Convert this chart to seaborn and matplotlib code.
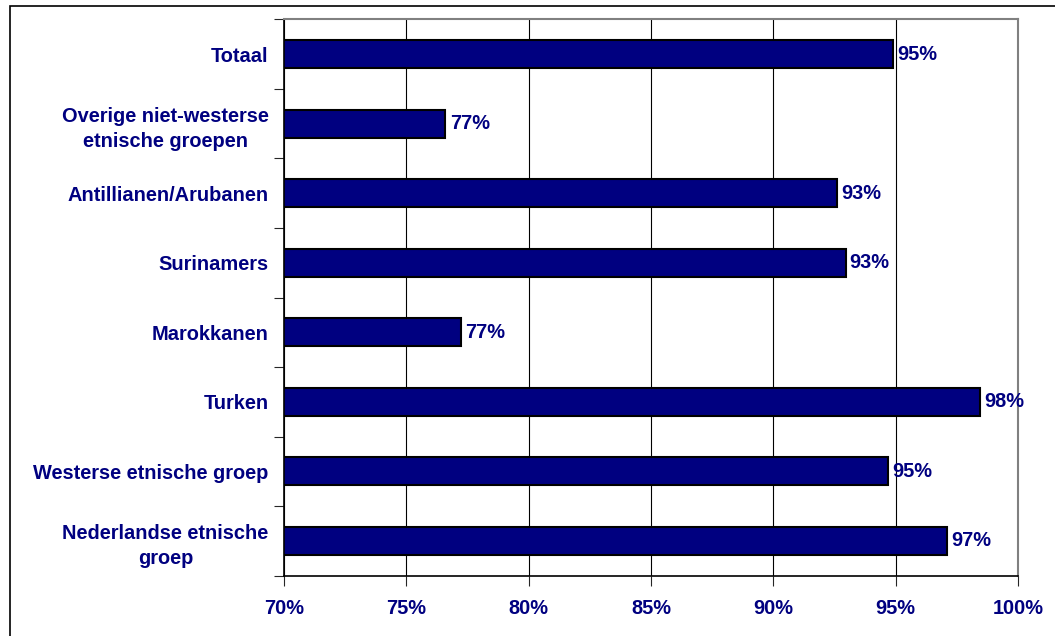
import pandas as pd
import matplotlib
matplotlib.use("Agg")
import matplotlib.pyplot as plt
import seaborn as sns
from matplotlib.patches import Rectangle
from matplotlib.ticker import FixedLocator, PercentFormatter

groups = [
    "Totaal",
    "Overige niet-westerse\netnische groepen",
    "Antillianen/Arubanen",
    "Surinamers",
    "Marokkanen",
    "Turken",
    "Westerse etnische groep",
    "Nederlandse etnische\ngroep",
]
shares = [94.9, 76.6, 92.6, 92.95, 77.25, 98.45, 94.7, 97.1]

NAVY = "#000080"
FS = 14.4

sns.set_style("white")
plt.rcParams['font.family'] = ['Liberation Sans', 'DejaVu Sans']

df = pd.DataFrame({"group": groups, "share": shares})

fig = plt.figure(figsize=(10.55, 6.36), dpi=100)
# outer frame (only left and top visible in the original)
fig.patches.append(Rectangle((10 / 1055, -0.1), 1.2, (636 - 6) / 636 + 0.1,
                             transform=fig.transFigure, fill=False,
                             edgecolor="black", linewidth=1.2))

ax = fig.add_axes([284 / 1055, (636 - 575.7) / 636, 734 / 1055, 556.4 / 636])

sns.barplot(data=df, x="share", y="group", orient="h", color=NAVY,
            edgecolor="black", linewidth=1.5, width=0.4, saturation=1, ax=ax)

ax.set_xlim(70, 100)
ax.set_ylim(len(groups) - 0.5, -0.5)
ax.set_xticks(range(70, 101, 5))
ax.xaxis.set_major_formatter(PercentFormatter(decimals=0))
ax.grid(axis="x", color="black", linewidth=0.8)
ax.set_axisbelow(True)

# ticks on the category boundaries
ax.yaxis.set_minor_locator(FixedLocator([i - 0.5 for i in range(len(groups) + 1)]))
ax.tick_params(axis="y", which="major", length=0, pad=11)
ax.tick_params(axis="y", which="minor", length=7, width=0.8, direction="out", left=True)
ax.tick_params(axis="x", which="major", length=7, width=0.8, direction="out", bottom=True, pad=10)

for lab in ax.get_yticklabels():
    lab.set_multialignment("center")
    lab.set_linespacing(1.4)
    lab.set_fontweight("bold")
    lab.set_color(NAVY)
    lab.set_fontsize(FS)
for lab in ax.get_xticklabels():
    lab.set_fontweight("bold")
    lab.set_color(NAVY)
    lab.set_fontsize(FS)

ax.set_xlabel("")
ax.set_ylabel("")

for side in ["left", "bottom"]:
    ax.spines[side].set_color("black")
    ax.spines[side].set_linewidth(1.2)
for side in ["top", "right"]:
    ax.spines[side].set_visible(True)
    ax.spines[side].set_color("#808080")
    ax.spines[side].set_linewidth(1.5)

ax.bar_label(ax.containers[0], labels=[f"{v:.0f}%" for v in shares], padding=3,
             color=NAVY, fontweight="bold", fontsize=FS)

fig.savefig("out.png", dpi=100)
plt.close(fig)
